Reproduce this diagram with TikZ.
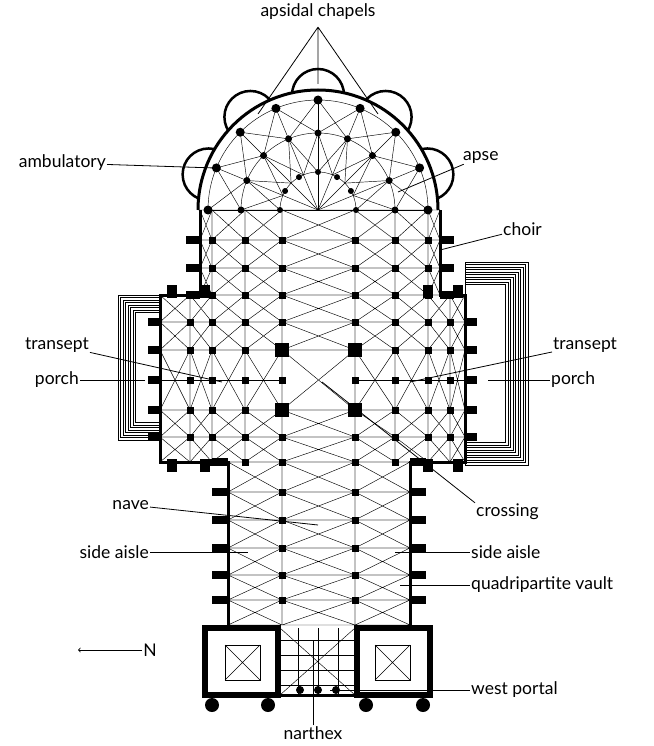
\documentclass[tikz,border=0pt]{standalone}
\usepackage{fontspec}
\setmainfont{Lato}
\begin{document}
\begin{tikzpicture}[x=1pt,y=1pt,yscale=-1,
 lbl/.style={font=\fontsize{17.5}{20}\selectfont, inner sep=1pt},
 lead/.style={line width=0.8pt},
 rib/.style={line width=0.45pt},
 wall/.style={line width=3pt},
 stepline/.style={line width=0.5pt}]
\useasboundingbox[fill=white] (0,0) rectangle (653,746);
\newcommand\bay[4]{\draw[rib] (#1,#2) rectangle (#3,#4) (#1,#2)--(#3,#4) (#1,#4)--(#3,#2);}
\newcommand\pierat[3]{\fill ([shift={(#1,#2)}]-#3,-#3) rectangle ++(2*#3,2*#3);}
% porches
\foreach \i in {0,...,7} \draw[stepline] (118+\i*2.5,295+\i*2.5) rectangle (160,440-\i*2.5);
\foreach \i in {0,...,9} \draw[stepline] (528-\i*2.5,262+\i*2.5) rectangle (465,465-\i*2.5);
% apsidal chapels
\foreach \a in {198,234,270,306,342}
  \draw[line width=2.5pt,fill=white] ([shift={(\a:115)}]318,210) circle[radius=26];
\fill[white] (198,210) arc[start angle=180,end angle=360,radius=120] -- cycle;
% apse ribs
\foreach \k in {0,...,8}{
  \pgfmathsetmacro\a{180+\k*22.5}
  \draw[rib] (318,210) -- ([shift={(\a:110)}]318,210);
  \fill ([shift={(\a:110)}]318,210) circle[radius=4.5];
  \fill ([shift={(\a:77)}]318,210) circle[radius=3.5];
}
\foreach \k in {0,...,7}{
  \pgfmathsetmacro\a{180+\k*22.5}\pgfmathsetmacro\b{\a+22.5}
  \draw[rib] ([shift={(\a:77)}]318,210) -- ([shift={(\b:110)}]318,210)
             ([shift={(\b:77)}]318,210) -- ([shift={(\a:110)}]318,210)
             ([shift={(\a:38)}]318,210) -- ([shift={(\b:77)}]318,210)
             ([shift={(\b:38)}]318,210) -- ([shift={(\a:77)}]318,210);
}
\foreach \r in {38,77,110}
  \draw[rib] ([shift={(180:\r)}]318,210) arc[start angle=180,end angle=360,radius=\r];
\foreach \k in {0,...,6}{\pgfmathsetmacro\a{180+\k*30}\fill ([shift={(\a:38)}]318,210) circle[radius=3];}
% choir bays
\foreach \xa/\xb in {200/212,212/245,245/282,282/355,355/395,395/428,428/440}
  \foreach \ya/\yb in {210/240,240/268,268/295} {\bay{\xa}{\ya}{\xb}{\yb}}
% transept bays
\foreach \xa/\xb in {160/190,190/212,212/245,245/282,282/355,355/395,395/428,428/450,450/465}
  \foreach \ya/\yb in {295/322,322/350,350/410,410/437,437/462} {\bay{\xa}{\ya}{\xb}{\yb}}
\foreach \xa/\xb in {160/190,190/212,212/245,245/282,355/395,395/428,428/450,450/465}
  \draw[rib] (\xa,380) -- (\xb,380);
% nave bays
\foreach \xa/\xb in {228/282,282/355,355/410}
  \foreach \ya/\yb in {462/492,492/520,520/548,548/575,575/600,600/625} {\bay{\xa}{\ya}{\xb}{\yb}}
% narthex
\foreach \x in {298,318,338} \draw[rib] (\x,628) -- (\x,695);
\foreach \y in {640,655,670,685} \draw[rib] (280,\y) -- (355,\y);
\draw[rib] (280,628) -- (355,695) (280,695) -- (355,628);
% outer wall
\draw[wall] (440,210) -- (440,295) -- (465,295) -- (465,462) -- (410,462) -- (410,625)
  (228,625) -- (228,462) -- (160,462) -- (160,295) -- (200,295) -- (200,210);
\draw[wall] (198,210) arc[start angle=180,end angle=360,radius=120];
% facade
\draw[line width=6pt] (205,628) rectangle (278,695) (357,628) rectangle (430,695);
\draw[line width=0.6pt] (225,645) rectangle (260,680) (375,645) rectangle (410,680);
\draw[line width=0.4pt] (225,645)--(260,680) (225,680)--(260,645) (375,645)--(410,680) (375,680)--(410,645);
\draw[line width=3pt] (278,695) -- (357,695);
\foreach \x in {300,318,336} \fill (\x,690) circle[radius=4];
\foreach \x in {212,268,366,423} \fill (\x,705) circle[radius=7];
% piers
\foreach \x in {212,245,282,355,395,428}
  \foreach \y in {240,268,295,322,350,380,410,437,462} {\pierat{\x}{\y}{3.5}}
\foreach \x in {190,450} \foreach \y in {322,350,380,410,437} {\pierat{\x}{\y}{3.5}}
\foreach \x in {282,355} \foreach \y in {492,520,548,575,600} {\pierat{\x}{\y}{3.5}}
\foreach \x in {282,355} \foreach \y in {350,410} {\pierat{\x}{\y}{7}}
% buttresses
\foreach \y in {240,268,295} {\fill (186,\y-4) rectangle (200,\y+4); \fill (440,\y-4) rectangle (454,\y+4);}
\foreach \x in {172,205,428,458} {\fill (\x-5,285) rectangle (\x+5,298); \fill (\x-5,459) rectangle (\x+5,472);}
\foreach \y in {322,350,380,410,437} {\fill (148,\y-4) rectangle (160,\y+4); \fill (465,\y-4) rectangle (477,\y+4);}
\foreach \y in {462,492,520,548,575,600} {\fill (212,\y-4) rectangle (228,\y+4); \fill (410,\y-4) rectangle (426,\y+4);}
% labels
\node[lbl] (apc) at (318,12) {apsidal chapels};
\coordinate (c1) at (258,114); \coordinate (c2) at (318,84); \coordinate (c3) at (378,114);
\draw[lead] (apc.south) ++(0,6) coordinate (apt) -- (c1) (apt) -- (c2) (apt) -- (c3);
\node[lbl,anchor=east] (amb) at (107,163) {ambulatory}; \coordinate (amb2) at (215,168);
\draw[lead] (amb) -- (amb2);
\node[lbl,anchor=west] (aps) at (462,157) {apse}; \coordinate (aps2) at (398,192);
\draw[lead] (aps) -- (aps2);
\node[lbl,anchor=west] (cho) at (502,229) {choir}; \coordinate (cho2) at (440,250);
\draw[lead] (cho) -- (cho2);
\node[lbl,anchor=east] (trl) at (90,345) {transept}; \coordinate (trl2) at (222,382);
\draw[lead] (trl) -- (trl2);
\node[lbl,anchor=east] (pol) at (80,380) {porch}; \coordinate (pol2) at (145,380);
\draw[lead] (pol) -- (pol2);
\node[lbl,anchor=west] (trr) at (552,345) {transept}; \coordinate (trr2) at (410,382);
\draw[lead] (trr) -- (trr2);
\node[lbl,anchor=west] (por) at (550,380) {porch}; \coordinate (por2) at (488,380);
\draw[lead] (por) -- (por2);
\node[lbl,anchor=west] (cro) at (475,512) {crossing}; \coordinate (cro2) at (322,382);
\draw[lead] (cro.north west) -- (cro2);
\node[lbl,anchor=east] (nav) at (150,505) {nave}; \coordinate (nav2) at (318,525);
\draw[lead] (nav) -- (nav2);
\node[lbl,anchor=east] (sal) at (150,552) {side aisle}; \coordinate (sal2) at (248,552);
\draw[lead] (sal) -- (sal2);
\node[lbl,anchor=west] (sar) at (470,552) {side aisle}; \coordinate (sar2) at (395,552);
\draw[lead] (sar) -- (sar2);
\node[lbl,anchor=west] (qv) at (470,585) {quadripartite vault}; \coordinate (qv2) at (400,585);
\draw[lead] (qv) -- (qv2);
\node[lbl] (N) at (150,650) {N}; \coordinate (nn) at (78,650);
\draw[lead,->] (N.west) -- (nn);
\node[lbl,anchor=west] (wp) at (470,690) {west portal}; \coordinate (wp2) at (330,690);
\draw[lead] (wp) -- (wp2);
\node[lbl] (nar) at (313,733) {narthex}; \coordinate (nar2) at (313,640);
\draw[lead] (nar) -- (nar2);
\end{tikzpicture}
\end{document}
